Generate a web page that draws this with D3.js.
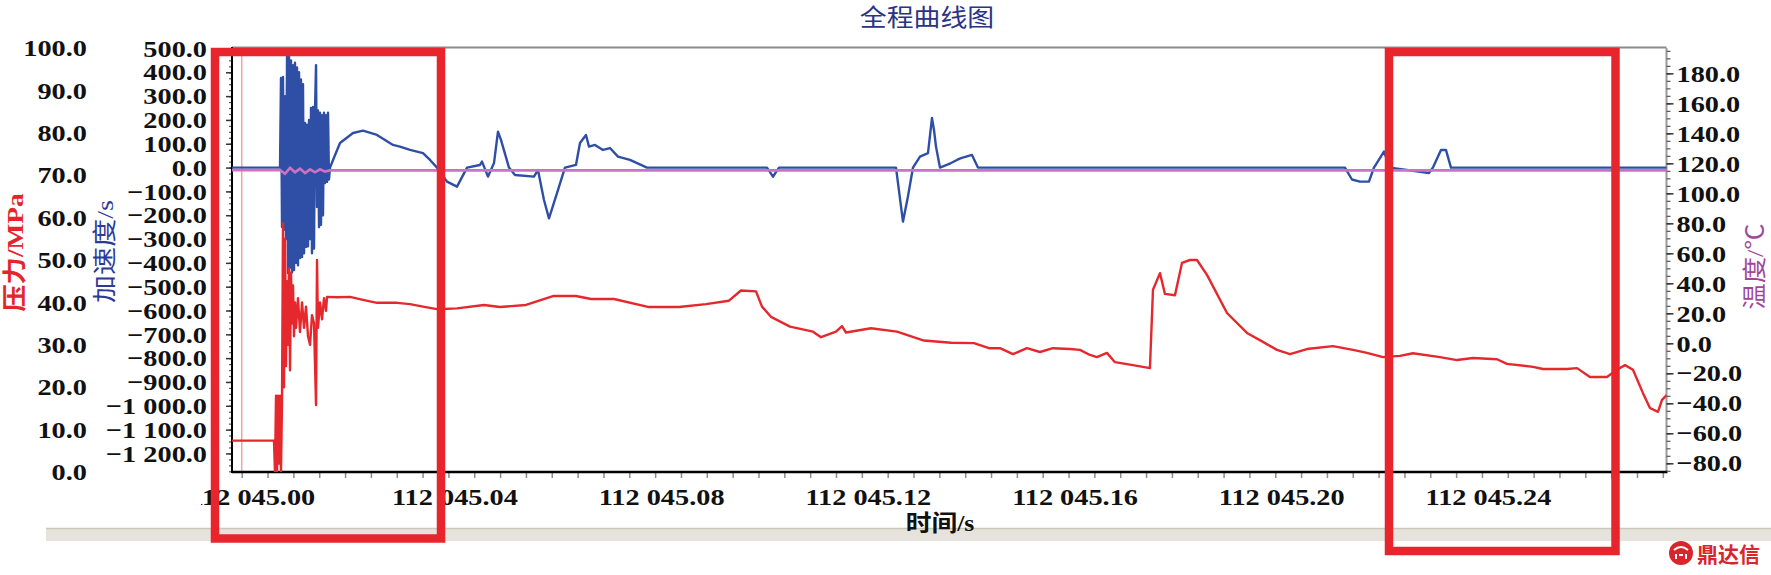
<!DOCTYPE html>
<html>
<head>
<meta charset="utf-8">
<script src="https://cdn.jsdelivr.net/npm/d3@7"></script>
<style>
body { margin: 0; background: #fff; }
svg text { font-family: "Liberation Serif", "Noto Sans CJK SC", serif; }
</style>
</head>
<body>
<div id="chart"></div>
<script>
// time is stored as seconds after 112 045.00 s
var pressureData = [
    [-0.00188, 7.4], [0.00625, 7.4], [0.00644, 0], [0.00664, 18], [0.00683, 0], [0.00702, 18],
    [0.00722, 2], [0.00741, 18], [0.00760, 0], [0.00780, 17], [0.00799, 58.7], [0.00818, 20],
    [0.00838, 55], [0.00857, 25], [0.00877, 45], [0.00896, 30], [0.00915, 48], [0.00935, 24],
    [0.00954, 47], [0.00973, 35], [0.00993, 44], [0.01012, 32], [0.01031, 40], [0.01051, 34],
    [0.01089, 41], [0.01128, 33], [0.01167, 40], [0.01206, 34], [0.01244, 39], [0.01283, 32],
    [0.01322, 30], [0.01360, 37], [0.01399, 35], [0.01438, 15.8], [0.01457, 50], [0.01476, 34],
    [0.01515, 40], [0.01554, 36], [0.01592, 41], [0.01631, 38], [0.01651, 41.3],
    [0.01844, 41.2], [0.02096, 41.3], [0.02347, 40.6], [0.02618, 39.9], [0.03005, 39.9],
    [0.03257, 39.6], [0.03508, 39.0], [0.03779, 38.4], [0.04166, 38.6], [0.04688, 39.4],
    [0.04998, 38.9], [0.05501, 39.4], [0.06023, 41.5], [0.06468, 41.5], [0.06759, 40.8],
    [0.07204, 40.8], [0.07881, 38.9], [0.08462, 38.9], [0.08984, 39.6], [0.09429, 40.4],
    [0.09661, 42.8], [0.09952, 42.6], [0.10068, 39.0], [0.10242, 36.6], [0.10610, 34.3],
    [0.11055, 33.1], [0.11210, 31.8], [0.11500, 33.1], [0.11616, 34.4], [0.11693, 32.9],
    [0.12177, 33.9], [0.12680, 33.1], [0.13202, 31.0], [0.13725, 30.5], [0.14170, 30.4],
    [0.14460, 29.2], [0.14673, 29.2], [0.14924, 27.8], [0.15195, 29.2], [0.15447, 28.3],
    [0.15698, 29.2], [0.16027, 29.0], [0.16221, 28.8], [0.16414, 27.6], [0.16550, 27.1],
    [0.16743, 28.1], [0.16898, 25.9], [0.17246, 25.2], [0.17575, 24.5], [0.17634, 43.0],
    [0.17769, 46.9], [0.17866, 42.0], [0.18059, 41.7], [0.18195, 49.3], [0.18350, 50.0],
    [0.18485, 50.0], [0.18679, 46.5], [0.19066, 37.5], [0.19453, 32.8], [0.19762, 30.7],
    [0.20033, 28.8], [0.20285, 27.8], [0.20614, 29.0], [0.21117, 29.7], [0.21504, 28.8],
    [0.21775, 28.1], [0.22085, 27.1], [0.22414, 27.4], [0.22665, 28.0], [0.23188, 27.1],
    [0.23517, 26.4], [0.23826, 26.9], [0.24291, 26.6], [0.24484, 25.5], [0.24987, 24.8],
    [0.25181, 24.3], [0.25645, 24.3], [0.25839, 24.5], [0.26090, 22.4], [0.26419, 22.4],
    [0.26613, 24.1], [0.26768, 25.2], [0.26922, 24.1], [0.27116, 18.6], [0.27251, 15.1],
    [0.27406, 14.2], [0.27484, 17.0], [0.27580, 18.2]
];

var accelData = [
    [-0.00188, 0], [0.00741, 0], [0.00760, 376], [0.00780, -249], [0.00799, 380], [0.00818, -260],
    [0.00838, 300], [0.00857, -300], [0.00877, 470], [0.00896, -443], [0.00915, 480], [0.00935, -420],
    [0.00954, 450], [0.00973, -440], [0.00993, 430], [0.01012, -430], [0.01031, 440], [0.01051, -400],
    [0.01070, 420], [0.01089, -410], [0.01109, 400], [0.01128, -380], [0.01147, 370], [0.01167, -375],
    [0.01186, 350], [0.01206, -360], [0.01225, 187], [0.01244, -333], [0.01264, 180], [0.01283, -330],
    [0.01302, 200], [0.01322, -300], [0.01341, 250], [0.01360, -360], [0.01380, 255], [0.01399, -340],
    [0.01418, 240], [0.01438, 430], [0.01457, -165], [0.01476, 240], [0.01496, -250], [0.01515, 230],
    [0.01534, -240], [0.01554, 220], [0.01573, -200], [0.01592, 230], [0.01612, -65], [0.01631, 220],
    [0.01651, -60], [0.01670, 230], [0.01689, -50], [0.01709, 0],
    [0.01767, 32], [0.01902, 103], [0.02154, 145], [0.02347, 155], [0.02618, 137], [0.02928, 95],
    [0.03063, 88], [0.03257, 74], [0.03508, 61], [0.03644, 32], [0.03779, 0], [0.03973, -59],
    [0.04166, -80], [0.04360, 0], [0.04611, 11], [0.04650, 25], [0.04766, -38], [0.04882, 19],
    [0.04959, 151], [0.05017, 116], [0.05172, 0], [0.05288, -31], [0.05656, -38], [0.05733, -10],
    [0.05849, -136], [0.05946, -213], [0.06101, -107], [0.06255, 0], [0.06468, 11], [0.06546, 103],
    [0.06662, 137], [0.06720, 88], [0.06836, 95], [0.06991, 74], [0.07126, 82], [0.07281, 46],
    [0.07513, 32], [0.07726, 11], [0.07842, 0], [0.10164, 0], [0.10281, -38], [0.10397, 0],
    [0.12661, 0], [0.12796, -227], [0.12893, -120], [0.12990, 0], [0.13125, 46], [0.13280, 61],
    [0.13357, 208], [0.13396, 158], [0.13435, 88], [0.13512, 0], [0.13725, 19], [0.13841, 32],
    [0.13919, 40], [0.14131, 53], [0.14247, 0], [0.21349, 0], [0.21484, -50], [0.21639, -59],
    [0.21813, -59], [0.21910, 0], [0.22104, 67], [0.22220, 0], [0.22974, -23], [0.23052, 0],
    [0.23207, 74], [0.23303, 74], [0.23400, 0], [0.27580, 0]
];

var tempData = [
    [-0.00188, 115.5], [0.00741, 115.5], [0.00838, 113], [0.00935, 117], [0.01031, 114],
    [0.01128, 116.5], [0.01225, 113.5], [0.01322, 116], [0.01418, 114], [0.01515, 116],
    [0.01612, 114.5], [0.01709, 115.3], [0.27580, 115.3]
];

var timeTicks = [0, 0.04, 0.08, 0.12, 0.16, 0.20, 0.24];
var pressureTicks = [0, 10, 20, 30, 40, 50, 60, 70, 80, 90, 100];
var accelTicks = [500, 400, 300, 200, 100, 0, -100, -200, -300, -400, -500, -600,
                  -700, -800, -900, -1000, -1100, -1200];
var tempTicks = [180, 160, 140, 120, 100, 80, 60, 40, 20, 0, -20, -40, -60, -80];

(function () {
var W = 1771, H = 575;
var pL = 232, pR = 1666.5, pT = 48, pB = 472;
var sx = 1.18; // labels in the source are stretched sideways

var x = d3.scaleLinear().domain([-0.00188, 0.27571]).range([pL, pR]);
var yP = d3.scaleLinear().domain([0, 100]).range([pB, pT]);
var yA = d3.scaleLinear().domain([-1278, 502]).range([pB, pT]);
var yT = d3.scaleLinear().domain([-85.8, 196.9]).range([pB, pT]);

var fmtY = function (d) { return d3.format(",.1f")(d).replace(/,/g, " "); };
var fmtX = function (d) { return "112 045." + d3.format("02d")(Math.round(d * 100)); };

var svg = d3.select("#chart").append("svg")
    .attr("width", W)
    .attr("height", H);

svg.append("rect").attr("width", W).attr("height", H).attr("fill", "#fff");

var defs = svg.append("defs");
defs.append("clipPath").attr("id", "plotclip")
    .append("rect")
    .attr("x", pL).attr("y", pT)
    .attr("width", pR - pL).attr("height", pB - pT);
defs.append("clipPath").attr("id", "xlabclip")
    .append("rect")
    .attr("x", 201).attr("y", 0)
    .attr("width", W).attr("height", 80);

// title
svg.append("text")
    .attr("transform", "translate(927,26) scale(1.12,1)")
    .attr("text-anchor", "middle")
    .attr("font-size", 24)
    .attr("fill", "#2a3486")
    .text("全程曲线图");

// bottom tool strip of the screenshot
svg.append("rect").attr("x", 46).attr("y", 528).attr("width", W - 46).attr("height", 13)
    .attr("fill", "#e6e3dc");
svg.append("line").attr("x1", 46).attr("x2", W).attr("y1", 528.5).attr("y2", 528.5)
    .attr("stroke", "#cbc6bb").attr("stroke-width", 1.5);

// frame top and right
svg.append("line").attr("x1", pL).attr("x2", pR).attr("y1", pT - 0.5).attr("y2", pT - 0.5)
    .attr("stroke", "#8a8a8a").attr("stroke-width", 2);
svg.append("line").attr("x1", pR).attr("x2", pR).attr("y1", pT).attr("y2", pB)
    .attr("stroke", "#9a9a9a").attr("stroke-width", 2);

// cursor line
svg.append("line").attr("x1", x(0)).attr("x2", x(0)).attr("y1", pT).attr("y2", pB)
    .attr("stroke", "#f2a3a0").attr("stroke-width", 1.5);

// bottom axis minor ticks
var minorX = d3.range(0, 0.2757, 0.005);
svg.append("g")
    .attr("transform", "translate(0," + pB + ")")
    .call(d3.axisBottom(x).tickValues(minorX).tickSize(6).tickFormat(""))
    .call(function (g) { g.select(".domain").remove(); })
    .selectAll("line").attr("stroke", "#8c8c8c").attr("stroke-width", 1.5);

// bottom axis labels
var xlab = svg.append("g")
    .attr("transform", "translate(0," + pB + ")")
    .attr("clip-path", "url(#xlabclip)")
    .call(d3.axisBottom(x).tickValues(timeTicks).tickSize(0).tickPadding(16).tickFormat(fmtX))
    .attr("font-family", null).attr("font-size", 24).attr("font-weight", "bold");
xlab.select(".domain").remove();
xlab.selectAll("text")
    .attr("fill", "#111")
    .attr("x", 6 / sx)
    .attr("transform", "scale(" + sx + ",1)");
xlab.select(".tick text")
    .attr("text-anchor", "end")
    .attr("x", 73 / sx);

svg.append("line").attr("x1", pL).attr("x2", pR + 1).attr("y1", pB).attr("y2", pB)
    .attr("stroke", "#000").attr("stroke-width", 2.5);

// acceleration axis (inner left)
var minorA = d3.range(-1275, 501, 25);
svg.append("g")
    .attr("transform", "translate(" + pL + ",0)")
    .call(d3.axisLeft(yA).tickValues(minorA).tickSize(3).tickFormat(""))
    .call(function (g) { g.select(".domain").remove(); })
    .selectAll("line").attr("stroke", "#555").attr("stroke-width", 1.2);
var ax = svg.append("g")
    .attr("transform", "translate(" + pL + ",0)")
    .call(d3.axisLeft(yA).tickValues(accelTicks).tickSize(6).tickPadding(19).tickFormat(fmtY))
    .attr("font-family", null).attr("font-size", 24).attr("font-weight", "bold");
ax.select(".domain").remove();
ax.selectAll("line").attr("stroke", "#333").attr("stroke-width", 1.5);
ax.selectAll("text").attr("fill", "#111").attr("x", -25 / sx).attr("transform", "scale(" + sx + ",1)");

svg.append("line").attr("x1", pL).attr("x2", pL).attr("y1", pT - 1).attr("y2", pB + 1)
    .attr("stroke", "#000").attr("stroke-width", 2);

// pressure axis (outer left, labels only)
var px = svg.append("g")
    .attr("transform", "translate(87,0)")
    .call(d3.axisLeft(yP).tickValues(pressureTicks).tickSize(0).tickPadding(0).tickFormat(fmtY))
    .attr("font-family", null).attr("font-size", 24).attr("font-weight", "bold");
px.select(".domain").remove();
px.selectAll("text").attr("fill", "#111").attr("x", 0).attr("transform", "scale(" + sx + ",1)");

// temperature axis (right)
var minorT = d3.range(-85, 196, 5);
svg.append("g")
    .attr("transform", "translate(" + pR + ",0)")
    .call(d3.axisRight(yT).tickValues(minorT).tickSize(4).tickFormat(""))
    .call(function (g) { g.select(".domain").remove(); })
    .selectAll("line").attr("stroke", "#555").attr("stroke-width", 1.2);
var tx = svg.append("g")
    .attr("transform", "translate(" + pR + ",0)")
    .call(d3.axisRight(yT).tickValues(tempTicks).tickSize(7).tickPadding(3).tickFormat(fmtY))
    .attr("font-family", null).attr("font-size", 24).attr("font-weight", "bold");
tx.select(".domain").remove();
tx.selectAll("line").attr("stroke", "#333").attr("stroke-width", 1.5);
tx.selectAll("text").attr("fill", "#111").attr("x", 10 / sx).attr("transform", "scale(" + sx + ",1)");

// axis titles
svg.append("text")
    .attr("transform", "translate(23,252.5) rotate(-90) scale(1.14,1)")
    .attr("text-anchor", "middle").attr("font-size", 24).attr("font-weight", "bold")
    .attr("fill", "#e3262b")
    .text("压力/MPa");
svg.append("text")
    .attr("transform", "translate(113,251.5) rotate(-90) scale(1.17,1)")
    .attr("text-anchor", "middle").attr("font-size", 24)
    .attr("fill", "#2c3a98")
    .text("加速度/s");
svg.append("text")
    .attr("transform", "translate(1763,266.5) rotate(-90) scale(1.1,1)")
    .attr("text-anchor", "middle").attr("font-size", 24)
    .attr("fill", "#a0479c")
    .text("温度/℃");
svg.append("text")
    .attr("transform", "translate(940,531) scale(1.12,1)")
    .attr("text-anchor", "middle").attr("font-size", 23).attr("font-weight", "bold")
    .attr("fill", "#111")
    .text("时间/s");

// data lines
var plot = svg.append("g").attr("clip-path", "url(#plotclip)");

function lineFor(yscale) {
    return d3.line()
        .x(function (d) { return x(d[0]); })
        .y(function (d) { return yscale(d[1]); });
}

plot.append("path").datum(accelData)
    .attr("d", lineFor(yA))
    .attr("fill", "none").attr("stroke", "#2f4fa6").attr("stroke-width", 2.4)
    .attr("stroke-linejoin", "round");
plot.append("path").datum(tempData)
    .attr("d", lineFor(yT))
    .attr("fill", "none").attr("stroke", "#cc72c4").attr("stroke-width", 2.6);
plot.append("path").datum(pressureData)
    .attr("d", lineFor(yP))
    .attr("fill", "none").attr("stroke", "#e5282d").attr("stroke-width", 2.4)
    .attr("stroke-linejoin", "round");

// highlight boxes
var boxes = [[215, 52, 226, 486.5], [1389, 52, 226.5, 499]];
svg.selectAll(".hbox").data(boxes).join("rect")
    .attr("class", "hbox")
    .attr("x", function (d) { return d[0]; })
    .attr("y", function (d) { return d[1]; })
    .attr("width", function (d) { return d[2]; })
    .attr("height", function (d) { return d[3]; })
    .attr("fill", "none").attr("stroke", "#e8242c").attr("stroke-width", 8.5);

// watermark
var logo = svg.append("g").attr("transform", "translate(1681,553)");
logo.append("circle").attr("r", 12).attr("fill", "#d8262c");
logo.append("path").attr("d", "M-7,-3 Q0,-9 7,-3 M-5,1 L-5,6 M5,1 L5,6 M-2,2 L2,2")
    .attr("fill", "none").attr("stroke", "#fff").attr("stroke-width", 2);
svg.append("text")
    .attr("x", 1697).attr("y", 562)
    .attr("font-size", 21).attr("font-weight", "bold")
    .attr("fill", "#d8262c")
    .text("鼎达信");
})();
</script>
</body>
</html>
